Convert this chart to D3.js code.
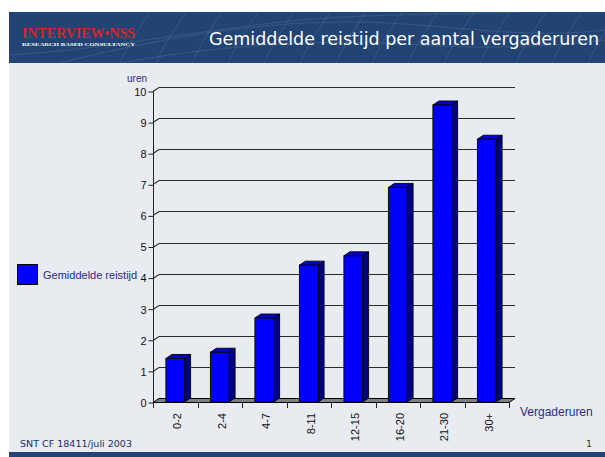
<!DOCTYPE html>
<html><head><meta charset="utf-8">
<script src="https://cdn.jsdelivr.net/npm/d3@7"></script>
<style>
html,body{margin:0;padding:0;background:#fff;}
svg{display:block;}
</style></head>
<body>
<svg id="c" width="605" height="457"></svg>
<script>
const categories = ["0-2","2-4","4-7","8-11","12-15","16-20","21-30","30+"];
const values = [1.4, 1.6, 2.7, 4.4, 4.7, 6.9, 9.55, 8.45];
const yTickValues = [0,1,2,3,4,5,6,7,8,9,10];
const seriesName = "Gemiddelde reistijd";
const titleText = "Gemiddelde reistijd per aantal vergaderuren";
const xAxisTitle = "Vergaderuren";
const yAxisTitle = "uren";
const footerText = "SNT CF 18411/juli 2003";
const pageNumber = "1";

const svg = d3.select("#c");
const W = 605, H = 457;
const navy = "#214474";
const bg = "#E8EBF0";
const textNavy = "#2A2A86";

// page background
svg.append("rect").attr("x",0).attr("y",0).attr("width",W).attr("height",H).attr("fill","#fff");
svg.append("rect").attr("x",9).attr("y",12).attr("width",W-9).attr("height",H-12).attr("fill",bg);
// banner
svg.append("rect").attr("x",9).attr("y",12).attr("width",W-9).attr("height",51).attr("fill",navy);
svg.append("rect").attr("x",9).attr("y",452).attr("width",W-9).attr("height",5).attr("fill",navy);

// decorative wave lines in banner
const deco = svg.append("g").attr("fill","none").attr("stroke","#ffffff").attr("stroke-opacity",0.13).attr("stroke-width",0.8);
deco.append("path").attr("d","M60,63 C150,40 260,20 360,22 C450,24 520,40 605,30");
deco.append("path").attr("d","M120,63 C220,45 320,38 420,45 C500,50 560,45 605,40");
deco.append("path").attr("d","M9,55 C100,50 200,30 300,20 C380,13 450,15 520,12");
for (let i = 0; i < 14; i++) {
  const x0 = 120 + i*36;
  deco.append("path").attr("d",`M${x0},63 C${x0+8},45 ${x0+18},30 ${x0+30},12`);
}

// logo
svg.append("text").attr("x",22).attr("y",38).attr("fill","#D8232A")
  .attr("font-family","'Liberation Serif','DejaVu Serif',serif").attr("font-weight","bold")
  .attr("font-size",15.5).attr("textLength",113).attr("lengthAdjust","spacingAndGlyphs")
  .text("INTERVIEW\u2022NSS");
svg.append("text").attr("x",22).attr("y",45.5).attr("fill","#ffffff")
  .attr("font-family","'Liberation Serif',serif").attr("font-weight","bold")
  .attr("font-size",4.2).attr("textLength",113).attr("lengthAdjust","spacingAndGlyphs")
  .text("RESEARCH BASED CONSULTANCY");

// title
svg.append("text").attr("x",209).attr("y",45).attr("fill","#fff")
  .attr("font-family","'DejaVu Sans',sans-serif").attr("font-size",17.5)
  .attr("textLength",390).attr("lengthAdjust","spacingAndGlyphs")
  .text(titleText);

// scales
const x0 = 153, x1 = 509, yBase = 402, yTop = 91;
const dx = 6, dy = -4;
const x = d3.scaleBand().domain(categories).range([x0, x1]).paddingInner(0).paddingOuter(0);
const y = d3.scaleLinear().domain([0, 10]).range([yBase, yTop]);

const g = svg.append("g");

// gridlines with 3D slant
yTickValues.filter(v => v > 0).forEach(v => {
  const yy = Math.round(y(v)) + 0.5;
  g.append("path")
    .attr("d", `M${x0},${yy} L${x0+dx},${yy+dy} L${x1+dx},${yy+dy}`)
    .attr("fill","none").attr("stroke","#2a2a2a").attr("stroke-width",1.1);
});

// floor
const yb = Math.round(y(0)) + 0.5;
g.append("path")
  .attr("d", `M${x0},${yb} L${x0+dx},${yb+dy} L${x1+dx},${yb+dy} L${x1},${yb} Z`)
  .attr("fill","#808080").attr("stroke","#000").attr("stroke-width",1);

// y axis
const yAxis = d3.axisLeft(y).tickValues(yTickValues).tickSize(5).tickPadding(2).tickFormat(d3.format("d"));
const ya = svg.append("g").attr("transform",`translate(${x0+0.5},0.5)`).call(yAxis);
ya.select(".domain").remove();
ya.selectAll("line").attr("stroke","#222");
ya.selectAll("text").attr("font-family","'Liberation Sans',Arial,sans-serif").attr("font-size",11).attr("fill","#111").attr("dy","0.35em");
svg.append("line").attr("x1",x0+0.5).attr("x2",x0+0.5).attr("y1",yTop).attr("y2",yBase+6).attr("stroke","#222");

// x axis ticks at band boundaries
const boundaries = categories.slice(1).map(c => x(c)).concat([x1]);
boundaries.forEach(b => {
  svg.append("line").attr("x1",Math.round(b)+0.5).attr("x2",Math.round(b)+0.5)
    .attr("y1",yBase).attr("y2",yBase+6).attr("stroke","#222");
});
svg.append("line").attr("x1",x0).attr("x2",x1).attr("y1",yb).attr("y2",yb).attr("stroke","#000");

// bars
const bw = x.bandwidth() * 0.42;
const bars = svg.append("g");
categories.forEach((c, i) => {
  const v = values[i];
  const bx = x(c) + (x.bandwidth() - bw) / 2;
  const top = y(v), bot = y(0);
  // side
  bars.append("path")
    .attr("d", `M${bx+bw},${bot} L${bx+bw+dx},${bot+dy} L${bx+bw+dx},${top+dy} L${bx+bw},${top} Z`)
    .attr("fill","#000080").attr("stroke","#000").attr("stroke-width",0.9).attr("stroke-linejoin","round");
  // top
  bars.append("path")
    .attr("d", `M${bx},${top} L${bx+dx},${top+dy} L${bx+bw+dx},${top+dy} L${bx+bw},${top} Z`)
    .attr("fill","#0000D0").attr("stroke","#000").attr("stroke-width",0.9).attr("stroke-linejoin","round");
  // front
  bars.append("rect").attr("x",bx).attr("y",top).attr("width",bw).attr("height",bot-top)
    .attr("fill","#0000FF").attr("stroke","#000").attr("stroke-width",0.9);
});

// x labels rotated
categories.forEach(c => {
  const cx = x(c) + x.bandwidth()/2 + 2;
  svg.append("text")
    .attr("transform",`translate(${cx},${yBase+11}) rotate(-90)`)
    .attr("text-anchor","end").attr("dy","0.35em")
    .attr("font-family","'Liberation Sans',Arial,sans-serif").attr("font-size",11).attr("fill","#111")
    .text(c);
});

// axis titles
svg.append("text").attr("x",520).attr("y",416).attr("fill",textNavy)
  .attr("font-family","'Liberation Sans',Arial,sans-serif").attr("font-size",12).text(xAxisTitle);
svg.append("text").attr("x",127).attr("y",82).attr("fill",textNavy)
  .attr("font-family","'Liberation Sans',Arial,sans-serif").attr("font-size",10).text(yAxisTitle);

// legend
svg.append("rect").attr("x",17.5).attr("y",264.5).attr("width",20).attr("height",20)
  .attr("fill","#0000FF").attr("stroke","#000").attr("stroke-width",1);
svg.append("text").attr("x",43).attr("y",279).attr("fill",textNavy)
  .attr("font-family","'Liberation Sans',Arial,sans-serif").attr("font-size",11).text(seriesName);

// footer
svg.append("text").attr("x",20).attr("y",447).attr("fill","#1F2F66")
  .attr("font-family","'DejaVu Sans',sans-serif").attr("font-size",9.5)
  .attr("textLength",112).attr("lengthAdjust","spacingAndGlyphs").text(footerText);
svg.append("text").attr("x",586).attr("y",447).attr("fill","#1F2F66")
  .attr("font-family","'DejaVu Sans',sans-serif").attr("font-size",9.5).text(pageNumber);
</script>
</body></html>
